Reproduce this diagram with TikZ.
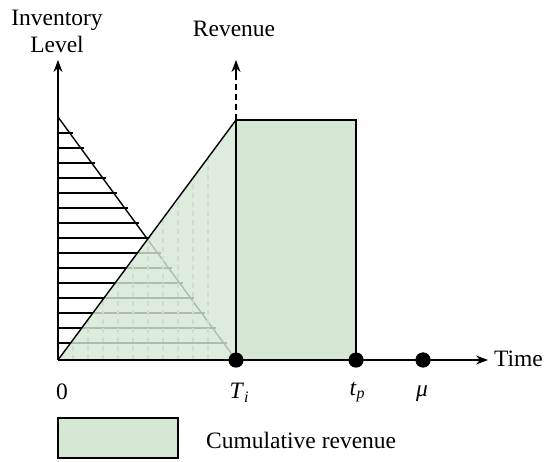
\documentclass[tikz,border=0pt]{standalone}
\usepackage{fontspec}
\setmainfont{Liberation Serif}
\usetikzlibrary{arrows.meta}
\definecolor{revgreen}{RGB}{213,232,212}
\tikzset{
  axis/.style={line width=1.4pt,-{Stealth[length=12pt,width=9pt]}},
  edge/.style={line width=1.4pt},
  hatch/.style={line width=1.3pt},
  dot/.style={circle,fill=black,inner sep=0pt,minimum size=15pt},
  lbl/.style={font=\fontsize{23.5}{27}\selectfont,inner sep=1pt,align=center},
}
\newcommand{\subit}[1]{\raisebox{-0.35ex}{\fontsize{16}{16}\selectfont\itshape #1}}
\begin{document}
\begin{tikzpicture}[x=1pt,y=-1pt]
\useasboundingbox (0,0) rectangle (544,462);
% key points
\coordinate (O) at (58,360);
\coordinate (Itop) at (58,117);
\coordinate (Rtop) at (236,120);
\coordinate (Ytip) at (58,60);
\coordinate (Rtip) at (236,60);
\coordinate (Rmid) at (236,74);
\coordinate (Xtip) at (488,360);
\node[dot] (Ti) at (236,360) {};
\node[dot] (tp) at (356,360) {};
\node[dot] (mu) at (423,360) {};
% inventory hatching
\foreach \y in {133,148,...,343}{
  \pgfmathsetmacro{\xe}{58+(\y-117)/243*178+3}
  \draw[hatch] (58,\y) -- (\xe,\y);
}
\draw[edge] (Itop) -- (Ti.center);
% revenue triangle vertical dashes
\foreach \x in {73,88,...,222}{
  \pgfmathsetmacro{\ye}{360-(\x-58)/178*240}
  \draw[gray!60,line width=1.2pt,dash pattern=on 5pt off 4pt] (\x,360) -- (\x,\ye);
}
% revenue triangle fill
\fill[revgreen,opacity=0.82] (O) -- (Rtop) -- (Ti.center) -- cycle;
\draw[edge] (O) -- (Rtop) -- (Ti.center);
% rectangle
\draw[edge,fill=revgreen] (Rtop) rectangle (tp.center);
% axes
\draw[axis] (O) -- (Ytip);
\draw[edge,dash pattern=on 6pt off 4pt] (Rtop) -- (Rmid);
\draw[axis] (Rmid) -- (Rtip);
\draw[axis] (O) -- (Xtip);
% dots on top
\node[dot] at (Ti) {};
\node[dot] at (tp) {};
\node[dot] at (mu) {};
% labels
\node[lbl] (invlbl) at (57,31) {Inventory\\Level};
\node[lbl] (revlbl) at (234,29) {Revenue};
\node[lbl,anchor=east,inner sep=0pt] (timelbl) at (543,359) {Time};
\node[lbl] (zero) at (62,392) {0};
\node[lbl] (Tilbl) at (239,393) {\textit{T}\subit{i}};
\node[lbl] (tplbl) at (357,392) {\textit{t}\subit{p}};
\node[lbl] (mulbl) at (422,394) {\textit{μ}};
% legend
\draw[line width=1.2pt,fill=revgreen] (58,418) rectangle (178,458);
\node[lbl,anchor=west] (leglbl) at (205,440) {Cumulative revenue};
\end{tikzpicture}
\end{document}
